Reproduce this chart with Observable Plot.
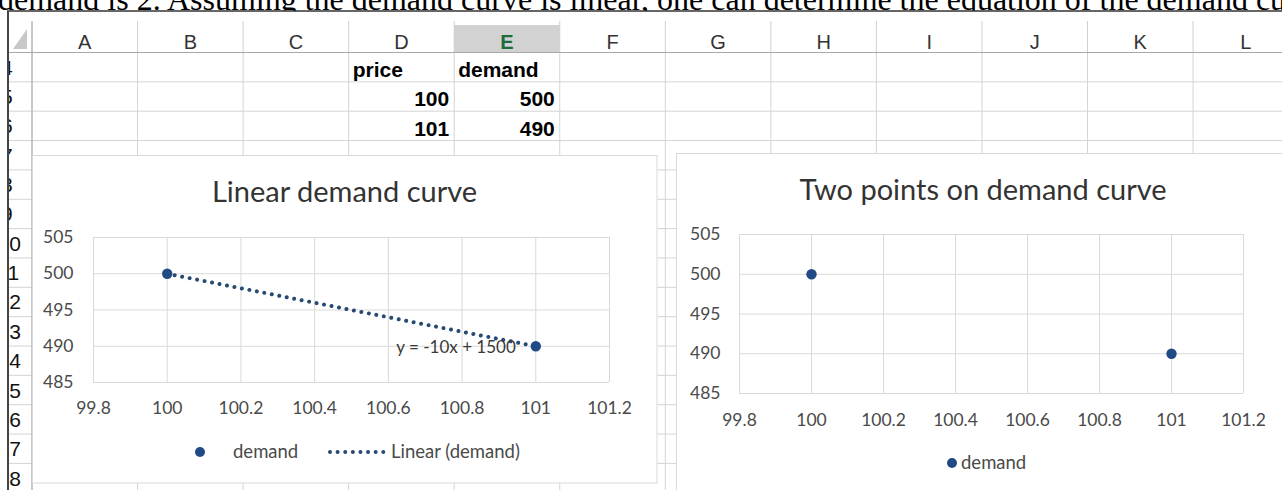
<!DOCTYPE html>
<html>
<head>
<meta charset="utf-8">
<script src="https://cdn.jsdelivr.net/npm/d3@7"></script>
<script src="https://cdn.jsdelivr.net/npm/@observablehq/plot@0.6"></script>
<style>
  html, body { margin: 0; padding: 0; background: #fff; }
  #page { position: relative; width: 1282px; height: 490px; overflow: hidden; background: #fff; }
  .layer { position: absolute; left: 0; top: 0; }
  .chart { position: absolute; }
</style>
</head>
<body>
<div id="page"></div>
<script>
// ---------- data ----------
const introText = "demand is 2. Assuming the demand curve is linear, one can determine the equation of the demand curve";
const columns = ["A", "B", "C", "D", "E", "F", "G", "H", "I", "J", "K", "L"];
const rowNumbers = [4, 5, 6, 7, 8, 9, 10, 11, 12, 13, 14, 15, 16, 17, 18];
const tableHeaders = ["price", "demand"];
const price = [100, 101];
const demand = [500, 490];
const xTicks = [99.8, 100, 100.2, 100.4, 100.6, 100.8, 101, 101.2];
const yTicks = [485, 490, 495, 500, 505];
const leftTitle = "Linear demand curve";
const rightTitle = "Two points on demand curve";
const seriesName = "demand";
const trendName = "Linear (demand)";

// ---------- styling ----------
const dotColor = "#1f4a85";
const trendColor = "#274a72";
const gridColor = "#d9d9d9";
const cellLine = "#d4d4d4";
const chartFont = "Lato, 'Open Sans', sans-serif";
const tickColor = "#4a4a4a";

const W = 1282, H = 490;
const colX0 = 32, colW = 105.55, rowY0 = 52.5, rowH = 29.35;
const page = d3.select("#page");

// ---------- spreadsheet background ----------
const bg = page.append("svg").attr("class", "layer").attr("width", W).attr("height", H);

// intro sentence (clipped at the top)
bg.append("text").attr("x", -2).attr("y", 10)
  .attr("font-family", "'Liberation Serif', 'Times New Roman', serif").attr("font-size", 32)
  .attr("fill", "#000").text(introText);

// white area of the embedded screenshot
bg.append("rect").attr("x", 7).attr("y", 11).attr("width", W).attr("height", H).attr("fill", "#fff");

const colEdges = d3.range(columns.length + 1).map(i => colX0 + i * colW);
const rowEdges = d3.range(rowNumbers.length + 1).map(i => rowY0 + i * rowH);

// selected column header background (E)
const selCol = columns.indexOf("E");
bg.append("rect").attr("x", colEdges[selCol]).attr("y", 25)
  .attr("width", colW).attr("height", rowY0 - 25).attr("fill", "#d2d2d2");

// header separators
colEdges.forEach(x => bg.append("line").attr("x1", x).attr("x2", x).attr("y1", 21).attr("y2", rowY0)
  .attr("stroke", "#d0d0d0"));
// cell grid
rowEdges.forEach(y => bg.append("line").attr("x1", 8).attr("x2", W).attr("y1", y).attr("y2", y)
  .attr("stroke", cellLine));
colEdges.forEach(x => bg.append("line").attr("x1", x).attr("x2", x).attr("y1", rowY0).attr("y2", H)
  .attr("stroke", cellLine));
// header bottom line and row-header right line
bg.append("line").attr("x1", 8).attr("x2", W).attr("y1", rowY0).attr("y2", rowY0).attr("stroke", "#a8a8a8");
bg.append("line").attr("x1", colX0).attr("x2", colX0).attr("y1", 21).attr("y2", H).attr("stroke", "#a8a8a8");

// select-all triangle
bg.append("path").attr("d", "M27,29 L27,49 L13,49 Z").attr("fill", "#c8c8c8");

// column letters
columns.forEach((c, i) => bg.append("text")
  .attr("x", colX0 + (i + 0.5) * colW).attr("y", 48.5).attr("text-anchor", "middle")
  .attr("font-family", "'Liberation Sans', Arial, sans-serif").attr("font-size", 20)
  .attr("font-weight", c === "E" ? "bold" : "normal")
  .attr("fill", c === "E" ? "#1e6b3c" : "#333").text(c));

// row numbers (clipped by the narrow row header)
bg.append("clipPath").attr("id", "rowclip").append("rect")
  .attr("x", 9).attr("y", rowY0).attr("width", colX0 - 9).attr("height", H);
const rowG = bg.append("g").attr("clip-path", "url(#rowclip)");
rowNumbers.forEach((r, i) => rowG.append("text")
  .attr("x", String(r).length === 1 ? 1 : -2.5).attr("y", rowEdges[i] + rowH / 2 + 7.5)
  .attr("font-family", "'Liberation Sans', Arial, sans-serif").attr("font-size", 21)
  .attr("fill", "#111").text(r));

// outer frame lines of the screenshot
bg.append("line").attr("x1", 7).attr("x2", W).attr("y1", 11).attr("y2", 11).attr("stroke", "#333").attr("stroke-width", 1.5);
bg.append("line").attr("x1", 8).attr("x2", 8).attr("y1", 11).attr("y2", H).attr("stroke", "#444").attr("stroke-width", 2);

// table cells (columns D and E, rows 4..6)
const cellFont = { "font-family": "'Liberation Sans', Arial, sans-serif", "font-size": 21, "font-weight": "bold", "fill": "#000" };
const dCol = columns.indexOf("D");
function cellText(txt, col, rowIdx, align) {
  const t = bg.append("text").text(txt)
    .attr("y", rowEdges[rowIdx] + 24.5)
    .attr("x", align === "left" ? colEdges[col] + 4 : colEdges[col + 1] - 5)
    .attr("text-anchor", align === "left" ? "start" : "end");
  Object.entries(cellFont).forEach(([k, v]) => t.attr(k, v));
}
tableHeaders.forEach((h, j) => cellText(h, dCol + j, 0, "left"));
price.forEach((p, i) => cellText(p, dCol, i + 1, "right"));
demand.forEach((d, i) => cellText(d, dCol + 1, i + 1, "right"));

// chart boxes
bg.append("rect").attr("x", 32.5).attr("y", 155.5).attr("width", 624.5).attr("height", 327.5)
  .attr("fill", "#fff").attr("stroke", gridColor);
bg.append("rect").attr("x", 676.5).attr("y", 153.5).attr("width", 700).attr("height", 400)
  .attr("fill", "#fff").attr("stroke", gridColor);

// ---------- chart data ----------
const pts = price.map((p, i) => ({ price: p, demand: demand[i] }));
const mx = d3.mean(price), my = d3.mean(demand);
const slope = d3.sum(pts, d => (d.price - mx) * (d.demand - my)) / d3.sum(pts, d => (d.price - mx) ** 2);
const intercept = my - slope * mx;
const trend = d3.extent(price).map(x => ({ price: x, demand: slope * x + intercept }));
const fmtNum = v => String(Math.round(v * 100) / 100);
const eqText = `y = ${fmtNum(slope)}x ${intercept < 0 ? "-" : "+"} ${fmtNum(Math.abs(intercept))}`;
const tickFmt = d => String(+d.toFixed(1));

function baseOptions(w, h, ml, mr, mt, mb, padX, padY) {
  return {
    width: w, height: h,
    marginLeft: ml, marginRight: mr, marginTop: mt, marginBottom: mb,
    style: { fontFamily: chartFont, fontSize: "17.5px", color: tickColor, background: "transparent", overflow: "visible" },
    x: { domain: [xTicks[0], xTicks[xTicks.length - 1]], ticks: xTicks, tickSize: 0, tickPadding: padX, tickFormat: tickFmt, label: null },
    y: { domain: [yTicks[0], yTicks[yTicks.length - 1]], ticks: yTicks, tickSize: 0, tickPadding: padY, label: null }
  };
}

const dotted = { strokeWidth: 4, strokeDasharray: "0.01 7.6", strokeLinecap: "round" };

// left chart: points + linear trendline
const leftPlot = Plot.plot({
  ...baseOptions(625, 215, 61, 48, 22, 48, 19, 20),
  marks: [
    Plot.ruleX(xTicks, { stroke: gridColor }),
    Plot.ruleY(yTicks, { stroke: gridColor }),
    Plot.line(trend, { x: "price", y: "demand", stroke: trendColor, ...dotted }),
    Plot.dot(pts, { x: "price", y: "demand", r: 5.2, fill: dotColor }),
    Plot.text([{ price: d3.max(price), demand: d3.min(demand), label: eqText }],
      { x: "price", y: "demand", text: "label", textAnchor: "end", dx: -20, dy: 1.5, fontSize: 17, fill: "#3a3a3a" })
  ]
});
const leftDiv = page.append("div").attr("class", "chart").style("left", "32px").style("top", "215px").style("width", "625px");
leftDiv.node().appendChild(leftPlot);

// right chart: points only
const rightPlot = Plot.plot({
  ...baseOptions(606, 221, 63, 39, 22, 40, 20, 19),
  marks: [
    Plot.ruleX(xTicks, { stroke: gridColor }),
    Plot.ruleY(yTicks, { stroke: gridColor }),
    Plot.dot(pts, { x: "price", y: "demand", r: 5.2, fill: dotColor })
  ]
});
const rightDiv = page.append("div").attr("class", "chart").style("left", "676px").style("top", "212px").style("width", "606px");
rightDiv.node().appendChild(rightPlot);

// ---------- titles and legends ----------
const ov = page.append("svg").attr("class", "layer").attr("width", W).attr("height", H).style("pointer-events", "none");
ov.append("text").attr("x", 344.5).attr("y", 202).attr("text-anchor", "middle")
  .attr("font-family", chartFont).attr("font-size", 29).attr("fill", "#333").text(leftTitle);
ov.append("text").attr("x", 983).attr("y", 200).attr("text-anchor", "middle")
  .attr("font-family", chartFont).attr("font-size", 29).attr("fill", "#333").text(rightTitle);

// left legend
ov.append("circle").attr("cx", 200).attr("cy", 452).attr("r", 5).attr("fill", dotColor);
ov.append("text").attr("x", 233).attr("y", 458).attr("font-family", chartFont).attr("font-size", 18.5)
  .attr("fill", tickColor).text(seriesName);
ov.append("line").attr("x1", 330).attr("x2", 387).attr("y1", 452).attr("y2", 452)
  .attr("stroke", trendColor).attr("stroke-width", dotted.strokeWidth)
  .attr("stroke-dasharray", dotted.strokeDasharray).attr("stroke-linecap", "round");
ov.append("text").attr("x", 391).attr("y", 458).attr("font-family", chartFont).attr("font-size", 18.5)
  .attr("fill", tickColor).text(trendName);

// right legend
ov.append("circle").attr("cx", 952).attr("cy", 463).attr("r", 5).attr("fill", dotColor);
ov.append("text").attr("x", 961).attr("y", 469).attr("font-family", chartFont).attr("font-size", 18.5)
  .attr("fill", tickColor).text(seriesName);
</script>
</body>
</html>
